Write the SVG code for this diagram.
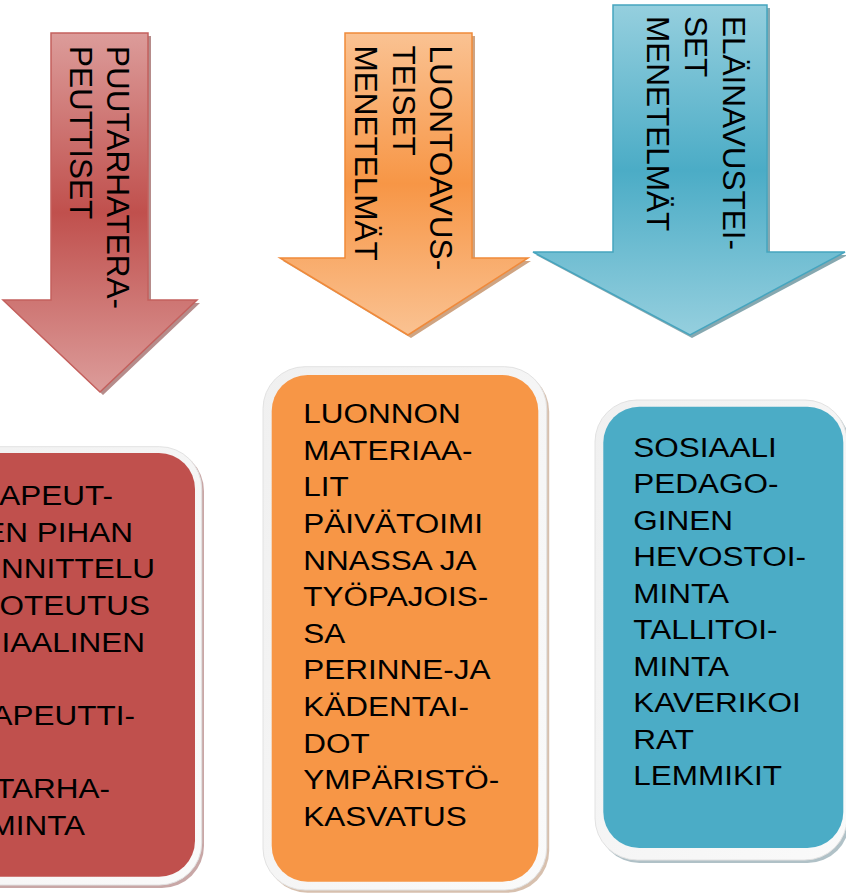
<svg xmlns="http://www.w3.org/2000/svg" width="846" height="893" viewBox="0 0 846 893">
<defs>
<linearGradient id="gRed" x1="0" y1="0" x2="0" y2="1">
<stop offset="0" stop-color="#dc9c9a"/><stop offset="0.5" stop-color="#c0504d"/><stop offset="1" stop-color="#dc9c9a"/>
</linearGradient>
<linearGradient id="gOrange" x1="0" y1="0" x2="0" y2="1">
<stop offset="0" stop-color="#fac292"/><stop offset="0.5" stop-color="#f79646"/><stop offset="1" stop-color="#fac292"/>
</linearGradient>
<linearGradient id="gBlue" x1="0" y1="0" x2="0" y2="1">
<stop offset="0" stop-color="#95cfde"/><stop offset="0.5" stop-color="#4bacc6"/><stop offset="1" stop-color="#95cfde"/>
</linearGradient>
<linearGradient id="gFrame" x1="0" y1="0" x2="1" y2="1">
<stop offset="0" stop-color="#f0f0f0"/><stop offset="1" stop-color="#fafafa"/>
</linearGradient>
</defs>
<style>
text{font-family:"Liberation Sans",Arial,sans-serif;fill:#000}
.v{font-size:31.5px}
.b{font-size:28px}
.frame{fill:url(#gFrame);stroke:#e2e2e2;stroke-width:1}
.shadow{opacity:0.55}
</style>

<g id="arrow-red">
<polygon class="shadow" points="54,36 151,36 151,303 200,303 103,395 6,303 54,303" fill="#7a2e2c"/>
<polygon points="51,33 148,33 148,300 197,300 100,392 3,300 51,300" fill="url(#gRed)" stroke="#c4605d" stroke-width="1.5"/>
<text class="v" transform="translate(107,46) rotate(90)">PUUTARHATERA-</text>
<text class="v" transform="translate(70,46) rotate(90)">PEUTTISET</text>
</g>

<g id="arrow-orange">
<polygon class="shadow" points="348,36 475,36 475,261 531,261 411,338 283,261 348,261" fill="#a85a1c"/>
<polygon points="345,33 472,33 472,258 528,258 408,335 280,258 345,258" fill="url(#gOrange)" stroke="#f08a3a" stroke-width="1.5"/>
<text class="v" transform="translate(430,45.5) rotate(90)">LUONTOAVUS-</text>
<text class="v" transform="translate(393.3,45.5) rotate(90)">TEISET</text>
<text class="v" transform="translate(355,45.5) rotate(90)">MENETELMÄT</text>
</g>

<g id="arrow-blue">
<polygon class="shadow" points="616,8 770,8 770,255 848,255 692,338 536,255 616,255" fill="#23606f"/>
<polygon points="613,5 767,5 767,252 845,252 690,335 533,252 613,252" fill="url(#gBlue)" stroke="#46a5bf" stroke-width="1.5"/>
<text class="v" transform="translate(723,16) rotate(90)">ELÄINAVUSTEI-</text>
<text class="v" transform="translate(685,16) rotate(90)">SET</text>
<text class="v" transform="translate(646.7,16) rotate(90)">MENETELMÄT</text>
</g>

<g id="box-red">
<rect x="-120" y="449" width="324" height="439" rx="42" fill="#9a5f5d" class="shadow"/>
<rect class="frame" x="-122" y="446.7" width="323.7" height="438.3" rx="42"/>
<rect x="-114" y="453" width="309" height="423.7" rx="36" fill="#c0504d"/>
<g transform="scale(1.125,1)">
<text class="b" text-anchor="end" x="100.4" y="505">APEUT-</text>
<text class="b" text-anchor="end" x="118.2" y="541.7">EN PIHAN</text>
<text class="b" text-anchor="end" x="137.8" y="578.3">NNITTELU</text>
<text class="b" text-anchor="end" x="133.3" y="615">OTEUTUS</text>
<text class="b" text-anchor="end" x="128.9" y="651.7">IAALINEN</text>
<text class="b" text-anchor="end" x="120" y="725">APEUTTI-</text>
<text class="b" text-anchor="end" x="97.8" y="798.3">TARHA-</text>
<text class="b" text-anchor="end" x="75.6" y="835">MINTA</text>
</g>
</g>

<g id="box-orange">
<rect x="265.5" y="369.5" width="283.7" height="523.3" rx="42" fill="#b78d6c" class="shadow"/>
<rect class="frame" x="263" y="366.7" width="283.7" height="523.3" rx="42"/>
<rect x="271.7" y="375" width="266.6" height="506.7" rx="36" fill="#f79646"/>
<g transform="translate(303.3,0) scale(1.125,1)">
<text class="b" x="0" y="423.3">LUONNON</text>
<text class="b" x="0" y="459.9">MATERIAA-</text>
<text class="b" x="0" y="496.5">LIT</text>
<text class="b" x="0" y="533.1">PÄIVÄTOIMI</text>
<text class="b" x="0" y="569.7">NNASSA JA</text>
<text class="b" x="0" y="606.3">TYÖPAJOIS-</text>
<text class="b" x="0" y="642.9">SA</text>
<text class="b" x="0" y="679.5">PERINNE-JA</text>
<text class="b" x="0" y="716.1">KÄDENTAI-</text>
<text class="b" x="0" y="752.7">DOT</text>
<text class="b" x="0" y="789.3">YMPÄRISTÖ-</text>
<text class="b" x="0" y="825.9">KASVATUS</text>
</g>
</g>

<g id="box-blue">
<rect x="597.5" y="403" width="252" height="460" rx="42" fill="#6f8e99" class="shadow"/>
<rect class="frame" x="595" y="400" width="252" height="460" rx="42"/>
<rect x="603.3" y="406.7" width="240" height="441.3" rx="36" fill="#4bacc6"/>
<g transform="translate(633.3,0) scale(1.125,1)">
<text class="b" x="0" y="456.7">SOSIAALI</text>
<text class="b" x="0" y="493.2">PEDAGO-</text>
<text class="b" x="0" y="529.7">GINEN</text>
<text class="b" x="0" y="566.2">HEVOSTOI-</text>
<text class="b" x="0" y="602.7">MINTA</text>
<text class="b" x="0" y="639.2">TALLITOI-</text>
<text class="b" x="0" y="675.7">MINTA</text>
<text class="b" x="0" y="712.2">KAVERIKOI</text>
<text class="b" x="0" y="748.7">RAT</text>
<text class="b" x="0" y="785.2">LEMMIKIT</text>
</g>
</g>

<g id="connectors"></g>
</svg>
